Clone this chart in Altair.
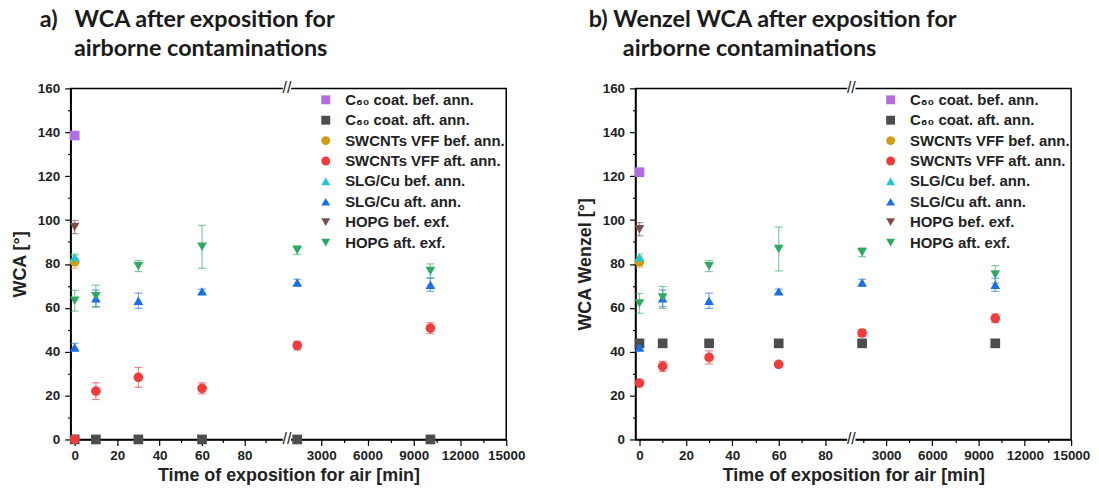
import altair as alt
import pandas as pd

# ---------------- data ----------------
series = ["C₆₀ coat. bef. ann.", "C₆₀ coat. aft. ann.", "SWCNTs VFF bef. ann.",
          "SWCNTs VFF aft. ann.", "SLG/Cu bef. ann.", "SLG/Cu aft. ann.",
          "HOPG bef. exf.", "HOPG aft. exf."]
colors = ["#b06ee0", "#4d4d4d", "#d29c12", "#f03c3c", "#1ec8d2", "#1c6ee8", "#7a4d4d", "#2eaa60"]
shapes = ["square", "square", "circle", "circle", "triangle-up", "triangle-up",
          "triangle-down", "triangle-down"]

t_one = [0]
t_all = [0, 10, 30, 60, 1440, 10080]

# panel a) WCA
a_c60_bef, a_c60_bef_e = [138.5], [0.8]
a_c60_aft, a_c60_aft_e = [0, 0, 0, 0, 0, 0], [0, 0, 0, 0, 0, 0]
a_sw_bef, a_sw_bef_e = [81.0], [3.0]
a_sw_aft, a_sw_aft_e = [0, 22.0, 28.3, 23.3, 42.8, 50.7], [0, 3.8, 4.5, 2.5, 2.0, 2.5]
a_slg_bef, a_slg_bef_e = [83.0], [1.5]
a_slg_aft, a_slg_aft_e = [42.0, 64.3, 63.2, 67.5, 71.5, 70.5], [1.8, 3.8, 3.5, 1.0, 1.5, 3.0]
a_hopg_bef, a_hopg_bef_e = [96.8], [3.0]
a_hopg_aft, a_hopg_aft_e = [63.2, 65.3, 79.0, 87.8, 86.3, 76.8], [4.7, 5.0, 2.5, 9.8, 2.0, 3.2]

# panel b) Wenzel WCA
b_c60_bef, b_c60_bef_e = [121.8], [0.8]
b_c60_aft, b_c60_aft_e = [43.8, 43.8, 43.8, 43.8, 43.8, 43.8], [0, 0, 0, 0, 0, 0]
b_sw_bef, b_sw_bef_e = [81.0], [2.5]
b_sw_aft, b_sw_aft_e = [25.7, 33.3, 37.4, 34.2, 48.5, 55.2], [0.8, 2.3, 3.0, 1.0, 1.5, 2.0]
b_slg_bef, b_slg_bef_e = [83.0], [1.5]
b_slg_aft, b_slg_aft_e = [42.0, 64.3, 63.2, 67.5, 71.5, 70.5], [1.8, 3.8, 3.5, 1.0, 1.5, 3.0]
b_hopg_bef, b_hopg_bef_e = [95.8], [3.0]
b_hopg_aft, b_hopg_aft_e = [62.0, 64.7, 79.0, 86.8, 85.3, 75.2], [4.5, 5.0, 2.5, 10.0, 2.0, 4.0]

x_major = [0, 20, 40, 60, 80, 3000, 6000, 9000, 12000, 15000]
x_minor = [10, 30, 50, 70, 90, 1500, 4500, 7500, 10500, 13500]
y_all = list(range(0, 161, 10))


def build_df(vals):
    rows = []
    for i, (times, v, e) in enumerate(vals):
        for t, y, err in zip(times, v, e):
            rows.append({"series": series[i], "grp": "e" + str(i), "order": i, "t": t, "v": y,
                         "lo": y - err, "hi": y + err, "err": err})
    return pd.DataFrame(rows)


df_a = build_df([(t_one, a_c60_bef, a_c60_bef_e), (t_all, a_c60_aft, a_c60_aft_e),
                 (t_one, a_sw_bef, a_sw_bef_e), (t_all, a_sw_aft, a_sw_aft_e),
                 (t_one, a_slg_bef, a_slg_bef_e), (t_all, a_slg_aft, a_slg_aft_e),
                 (t_one, a_hopg_bef, a_hopg_bef_e), (t_all, a_hopg_aft, a_hopg_aft_e)])
df_b = build_df([(t_one, b_c60_bef, b_c60_bef_e), (t_all, b_c60_aft, b_c60_aft_e),
                 (t_one, b_sw_bef, b_sw_bef_e), (t_all, b_sw_aft, b_sw_aft_e),
                 (t_one, b_slg_bef, b_slg_bef_e), (t_all, b_slg_aft, b_slg_aft_e),
                 (t_one, b_hopg_bef, b_hopg_bef_e), (t_all, b_hopg_aft, b_hopg_aft_e)])
grp_domain = ["e" + str(i) for i in range(len(series))]

W, H = 438, 353
FONT = "Liberation Sans"
NB = "\u00a0"
ZW = "\u200b"

major_test_x = "(datum.value < 1000 && datum.value % 20 == 0) || (datum.value >= 1000 && datum.value % 3000 == 0)"
major_test_y = "datum.value % 20 == 0"


def panel(df, ytitle, title_lines, title_dx, domain, rng, brk):
    xs = alt.Scale(domain=domain, range=rng, nice=False, zero=False)
    ys = alt.Scale(domain=[0, 160], nice=False, zero=False)
    cs = alt.Scale(domain=series, range=colors)
    es = alt.Scale(domain=grp_domain, range=colors)
    ss = alt.Scale(domain=series, range=shapes)

    xaxis = alt.Axis(values=x_major + x_minor, format="d", tickCount=100,
                     labelExpr="(" + major_test_x + ") ? datum.label : ''",
                     tickSize={"condition": {"test": major_test_x, "value": 6}, "value": 3},
                     title="Time of exposition for air [min]", grid=False,
                     labelOverlap=False, labelFlush=False, titlePadding=5, labelPadding=3)
    yaxis = alt.Axis(values=y_all, format="d", tickCount=100,
                     labelExpr="(" + major_test_y + ") ? datum.label : ''",
                     tickSize={"condition": {"test": major_test_y, "value": 6}, "value": 3},
                     title=ytitle, grid=False, labelOverlap=False, labelFlush=False,
                     titlePadding=8, labelPadding=5)

    leg = alt.Legend(title=None, orient="none", legendX=249, legendY=4, padding=0,
                     symbolSize=80, symbolStrokeWidth=0, symbolOpacity=1,
                     labelFont=FONT, labelFontWeight="bold", labelLimit=400,
                     labelFontSize=15, labelColor="#222222",
                     rowPadding=4.5, labelOffset=12)

    base = alt.Chart(df)
    err_df = df[df["err"] > 0]
    ebase = alt.Chart(err_df)

    rules = ebase.mark_rule(strokeWidth=1.2, opacity=0.6).encode(
        x=alt.X("t:Q", scale=xs, axis=xaxis),
        y=alt.Y("lo:Q", scale=ys, axis=yaxis), y2="hi:Q",
        stroke=alt.Stroke("grp:N", scale=es, legend=None))
    cap_lo = ebase.mark_tick(orient="horizontal", size=8, thickness=1.2, opacity=0.6).encode(
        x=alt.X("t:Q", scale=xs), y=alt.Y("lo:Q", scale=ys),
        fill=alt.Fill("grp:N", scale=es, legend=None))
    cap_hi = ebase.mark_tick(orient="horizontal", size=8, thickness=1.2, opacity=0.6).encode(
        x=alt.X("t:Q", scale=xs), y=alt.Y("hi:Q", scale=ys),
        fill=alt.Fill("grp:N", scale=es, legend=None))
    pts = base.mark_point(filled=True, size=95, opacity=1).encode(
        x=alt.X("t:Q", scale=xs),
        y=alt.Y("v:Q", scale=ys),
        color=alt.Color("series:N", scale=cs, sort=series, legend=leg),
        shape=alt.Shape("series:N", scale=ss, sort=series, legend=leg),
        order=alt.Order("order:Q"))

    brk_df = pd.DataFrame({"t": [brk, brk], "v": [0, 160]})
    bbase = alt.Chart(brk_df)
    cover = bbase.mark_point(shape="square", filled=True, color="white", opacity=1, size=70).encode(
        x=alt.X("t:Q", scale=xs), y=alt.Y("v:Q", scale=ys))
    slashes = bbase.mark_text(text="//", font=FONT, fontSize=16, color="#222222").encode(
        x=alt.X("t:Q", scale=xs), y=alt.Y("v:Q", scale=ys))

    return alt.layer(rules, cap_lo, cap_hi, pts, cover, slashes).properties(
        width=W, height=H,
        title=alt.TitleParams(text=title_lines, anchor="start", frame="group",
                              dx=title_dx, font="Lato", fontSize=23.5, fontWeight="bold",
                              color="#1a1a1a", lineHeight=29, offset=20),
    )


pa = panel(df_a, "WCA [°]",
           ["a)" + NB * 3 + "WCA after exposition for", ZW + NB * 6 + "airborne contaminations"],
           -31, [-1.9, 100, 774, 15000], [0, 217.5, 217.5, W], 100)
pb = panel(df_b, "WCA Wenzel [°]",
           ["b) Wenzel WCA after exposition for", ZW + NB * 6 + "airborne contaminations"],
           -47, [-1.7, 91.3, 742, 15000], [0, 217, 217, W], 91.3)

chart = alt.hconcat(pa, pb, spacing=49).resolve_scale(
    color="independent", shape="independent", x="independent", y="independent",
    stroke="independent", fill="independent"
).resolve_legend(color="independent", shape="independent").configure_view(
    stroke="black", strokeWidth=1.5
).configure_axis(
    domainColor="black", domainWidth=1.5, tickColor="black", tickWidth=1.2,
    labelFont=FONT, labelFontWeight="bold", labelFontSize=13.5, labelColor="#222222",
    titleFont=FONT, titleFontWeight="bold", titleFontSize=18,
    titleColor="#222222"
).properties(padding={"left": 2, "top": -2.5, "right": 0, "bottom": 0}, background="white")

chart.save("out.html", embed_options={"renderer": "svg", "actions": False})
